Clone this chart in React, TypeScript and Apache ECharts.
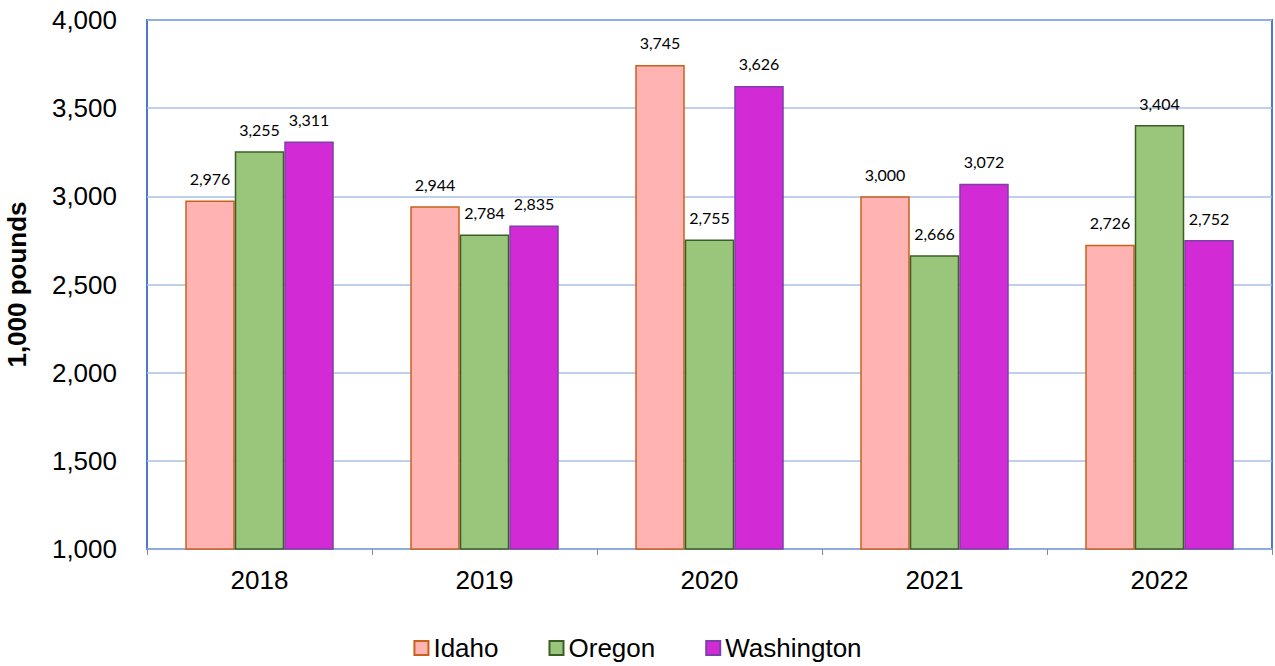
import React, { useEffect, useRef } from "react";
import * as echarts from "echarts";

const categories = ["2018", "2019", "2020", "2021", "2022"];
const idaho = [2976, 2944, 3745, 3000, 2726];
const oregon = [3255, 2784, 2755, 2666, 3404];
const washington = [3311, 2835, 3626, 3072, 2752];
const yTicks = { min: 1000, max: 4000, interval: 500 };

const fmt = (v: number) => v.toLocaleString("en-US");

export default function App() {
  const ref = useRef<HTMLDivElement>(null);
  useEffect(() => {
    if (!ref.current) return;
    const chart = echarts.init(ref.current, undefined, { renderer: "svg" });
    const labelStyle = {
      show: true,
      position: "top" as const,
      distance: 14,
      fontFamily: "Lato",
      fontSize: 16,
      color: "#000",
      formatter: (p: any) => fmt(p.value),
    };
    const mk = (name: string, data: number[], fill: string, border: string) => ({
      name,
      type: "bar",
      data,
      barGap: "0%",
      barCategoryGap: "34%",
      itemStyle: { color: fill, borderColor: border, borderWidth: 1.5 },
      label: labelStyle,
    });
    chart.setOption({
      animation: false,
      textStyle: { fontFamily: "Liberation Sans" },
      grid: {
        left: 147,
        right: 3,
        top: 20,
        bottom: 117,
        outerBoundsMode: "none",
        containLabel: false,
        show: true,
        borderColor: "#4A78CC",
        borderWidth: 2,
        backgroundColor: "transparent",
      },
      legend: {
        top: 630,
        left: "center",
        itemWidth: 14,
        itemHeight: 14,
        itemGap: 50,
        icon: "rect",
        textStyle: { fontSize: 26, color: "#000", fontFamily: "Liberation Sans" },
        data: ["Idaho", "Oregon", "Washington"],
      },
      xAxis: {
        type: "category",
        data: categories,
        axisLine: { show: true, lineStyle: { color: "#8FAADC", width: 1.5 } },
        axisTick: { show: true, length: 6, lineStyle: { color: "#888" } },
        axisLabel: { fontSize: 26, color: "#000", margin: 18, fontFamily: "Liberation Sans" },
      },
      yAxis: {
        type: "value",
        min: yTicks.min,
        max: yTicks.max,
        interval: yTicks.interval,
        name: "1,000 pounds",
        nameLocation: "middle",
        nameRotate: 90,
        nameGap: 117,
        nameTextStyle: { fontSize: 26, fontWeight: "bold", color: "#000", fontFamily: "Liberation Sans" },
        axisLine: { show: false },
        axisTick: { show: false },
        axisLabel: { fontSize: 26, color: "#000", margin: 30, formatter: (v: number) => fmt(v), fontFamily: "Liberation Sans" },
        splitLine: { lineStyle: { color: "#A9C0E8", width: 1.5 } },
      },
      series: [
        mk("Idaho", idaho, "#FFB3B3", "#C8611C"),
        mk("Oregon", oregon, "#99C67A", "#3B5E27"),
        mk("Washington", washington, "#D22BD6", "#7F3FA8"),
      ],
    });
    return () => chart.dispose();
  }, []);
  return (
    <div
      ref={ref}
      style={{ position: "fixed", left: 0, top: 0, width: 1275, height: 666, background: "#fff" }}
    />
  );
}
